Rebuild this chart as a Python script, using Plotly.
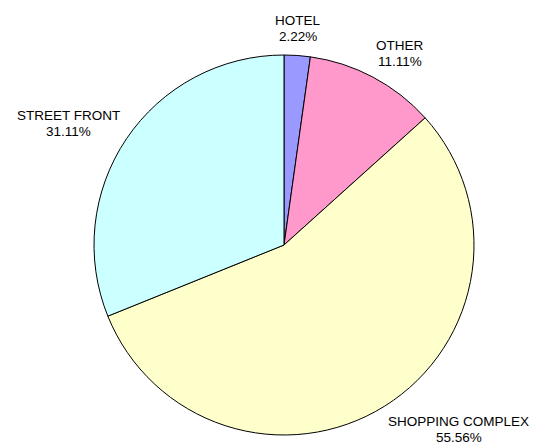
import math
import plotly.graph_objects as go

labels = ["HOTEL", "OTHER", "SHOPPING COMPLEX", "STREET FRONT"]
values = [2.22, 11.11, 55.56, 31.11]
colors = ["#9999FF", "#FF99CC", "#FFFFCC", "#CCFFFF"]

W, H = 543, 446
cx, cy, R = 284, 245, 190
FS = 13.5
LINE = 16

# approximate Arial/Liberation Sans advance widths (per 1000 em) to centre the two lines
ADV = {**{ch: 667 for ch in "ABEKPSVXY"}, **{ch: 722 for ch in "CDHNRU"},
       "F": 611, "T": 611, "Z": 611, "G": 778, "O": 778, "Q": 778, "I": 278,
       "J": 500, "L": 556, "M": 833, "W": 944, " ": 278, ".": 278, "%": 889,
       **{d: 556 for d in "0123456789"}}


def text_w(t):
    return sum(ADV.get(ch, 600) for ch in t) * FS / 1000


fig = go.Figure(go.Pie(
    labels=labels, values=values, sort=False, direction="clockwise", rotation=0,
    marker=dict(colors=colors, line=dict(color="black", width=1)),
    textinfo="none", hoverinfo="label+percent", showlegend=False,
    domain=dict(x=[(cx - R) / W, (cx + R) / W], y=[1 - (cy + R) / H, 1 - (cy - R) / H]),
))

total = sum(values)
cum = 0
for lab, v in zip(labels, values):
    mid = (cum + v / 2) / total * 2 * math.pi
    cum += v
    s, c = math.sin(mid), math.cos(mid)
    pct = f"{v:.2f}%"
    w = max(text_w(lab), text_w(pct))
    px = cx + (R + 7) * s
    if s > 0.1:
        bx = px + w / 2
    elif s < -0.1:
        bx = px - w / 2
    else:
        bx = px
    by = cy - (R + 27) * c
    for txt, dy in ((lab, -LINE / 2), (pct, LINE / 2)):
        fig.add_annotation(
            x=bx / W, y=1 - (by + dy) / H, xref="paper", yref="paper",
            text=txt, showarrow=False, xanchor="center", yanchor="middle",
            font=dict(family="Liberation Sans, Arial, sans-serif", size=FS, color="black"),
            borderpad=0,
        )

fig.update_layout(
    width=W, height=H, margin=dict(l=0, r=0, t=0, b=0),
    paper_bgcolor="white", plot_bgcolor="white",
)
fig.write_html("out.html", config={"displayModeBar": False},
               post_script="document.body.style.margin='0';document.body.style.overflow='hidden';")
